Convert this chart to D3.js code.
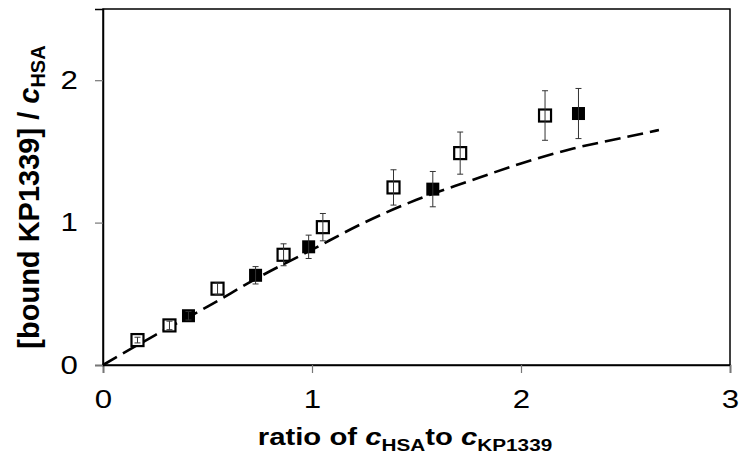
<!DOCTYPE html>
<html><head><meta charset="utf-8">
<script src="https://cdn.jsdelivr.net/npm/d3@7/dist/d3.min.js"></script>
<style>body{margin:0;background:#fff}svg{display:block}</style>
</head><body>
<svg id="chart" width="741" height="465"></svg>
<script>
// data
const openX = [0.165, 0.318, 0.548, 0.864, 1.052, 1.39, 1.709, 2.115];
const openY = [0.175, 0.278, 0.536, 0.774, 0.968, 1.247, 1.488, 1.752];
const openErr = [0.02, 0.03, 0.04, 0.077, 0.096, 0.124, 0.148, 0.174];
const filledX = [0.409, 0.73, 0.984, 1.578, 2.275];
const filledY = [0.346, 0.63, 0.83, 1.235, 1.766];
const filledErr = [0.03, 0.061, 0.082, 0.124, 0.176];
const curveX = [0, 0.25, 0.5, 0.75, 1.0, 1.25, 1.5, 1.75, 2.0, 2.25, 2.5, 2.66];
const curveY = [0, 0.21, 0.41, 0.62, 0.81, 1.0, 1.16, 1.29, 1.415, 1.52, 1.60, 1.65];
const xTicks = [0, 1, 2, 3];
const yTicks = [0, 1, 2];

const svg = d3.select("#chart");
const L = 103, R = 730, T = 9, B = 365;
const x = d3.scaleLinear().domain([0, 3]).range([L, R]);
const y = d3.scaleLinear().domain([0, 2.5]).range([B, T]);
const font = "'Liberation Sans', Arial, sans-serif";
const SX = 1.2;

// frame
svg.append("rect").attr("x", L).attr("y", T).attr("width", R - L).attr("height", B - T)
  .attr("fill", "none").attr("stroke", "#000").attr("stroke-width", 1.5);

// axes
const xAxis = svg.append("g").attr("transform", `translate(0,${B})`)
  .call(d3.axisBottom(x).tickValues(xTicks).tickSize(8).tickPadding(17).tickFormat(d3.format("d")));
const yAxis = svg.append("g").attr("transform", `translate(${L},0)`)
  .call(d3.axisLeft(y).tickValues(yTicks).tickSize(8).tickPadding(13).tickFormat(d3.format("d")));
[xAxis, yAxis].forEach(g => {
  g.select(".domain").attr("stroke", "#000").attr("stroke-width", 1.5);
  g.selectAll(".tick line").attr("stroke", "#777").attr("stroke-width", 1.2);
  g.selectAll(".tick text").attr("font-family", font).attr("font-size", 26).attr("fill", "#000")
    .attr("transform", `scale(${SX},1)`);
});

// curve
const pts = curveX.map((v, i) => [v, curveY[i]]);
svg.append("path").datum(pts)
  .attr("d", d3.line().x(d => x(d[0])).y(d => y(d[1])).curve(d3.curveMonotoneX))
  .attr("fill", "none").attr("stroke", "#000").attr("stroke-width", 2.6)
  .attr("stroke-dasharray", "16,7");

const fd = filledX.map((v, i) => ({x: v, y: filledY[i], e: filledErr[i]}));
const od = openX.map((v, i) => ({x: v, y: openY[i], e: openErr[i]}));

function errBars(data) {
  const g = svg.append("g").attr("stroke", "#333").attr("stroke-width", 1);
  g.selectAll(".v").data(data).join("line")
    .attr("x1", d => x(d.x)).attr("x2", d => x(d.x))
    .attr("y1", d => y(d.y + d.e)).attr("y2", d => y(d.y - d.e));
  g.selectAll(".t").data(data).join("line")
    .attr("x1", d => x(d.x) - 3).attr("x2", d => x(d.x) + 3)
    .attr("y1", d => y(d.y + d.e)).attr("y2", d => y(d.y + d.e));
  g.selectAll(".b").data(data).join("line")
    .attr("x1", d => x(d.x) - 3).attr("x2", d => x(d.x) + 3)
    .attr("y1", d => y(d.y - d.e)).attr("y2", d => y(d.y - d.e));
}

svg.append("g").selectAll("rect").data(fd).join("rect")
  .attr("x", d => x(d.x) - 6.5).attr("y", d => y(d.y) - 6.5)
  .attr("width", 13).attr("height", 13).attr("fill", "#000");
errBars(fd);
svg.append("g").selectAll("rect").data(od).join("rect")
  .attr("x", d => x(d.x) - 6).attr("y", d => y(d.y) - 6)
  .attr("width", 12).attr("height", 12).attr("fill", "#fff")
  .attr("stroke", "#000").attr("stroke-width", 2.2);
errBars(od);

// x title
const xt = svg.append("text").attr("transform", `translate(405,445) scale(1.22,1)`)
  .attr("text-anchor", "middle").attr("font-family", font).attr("font-weight", "bold")
  .attr("font-size", 24).attr("fill", "#000");
xt.append("tspan").text("ratio of ");
xt.append("tspan").attr("font-style", "italic").text("c");
xt.append("tspan").attr("font-size", 17).attr("dy", 6).text("HSA");
xt.append("tspan").attr("dy", -6).text("to ");
xt.append("tspan").attr("font-style", "italic").text("c");
xt.append("tspan").attr("font-size", 17).attr("dy", 6).text("KP1339");

// y title
const yt = svg.append("text").attr("transform", "translate(39,197) rotate(-90)")
  .attr("text-anchor", "middle").attr("font-family", font).attr("font-weight", "bold")
  .attr("font-size", 29).attr("fill", "#000");
yt.append("tspan").text("[bound KP1339] / ");
yt.append("tspan").attr("font-style", "italic").text("c");
yt.append("tspan").attr("font-size", 20).attr("dy", 6).text("HSA");
</script>
</body></html>
